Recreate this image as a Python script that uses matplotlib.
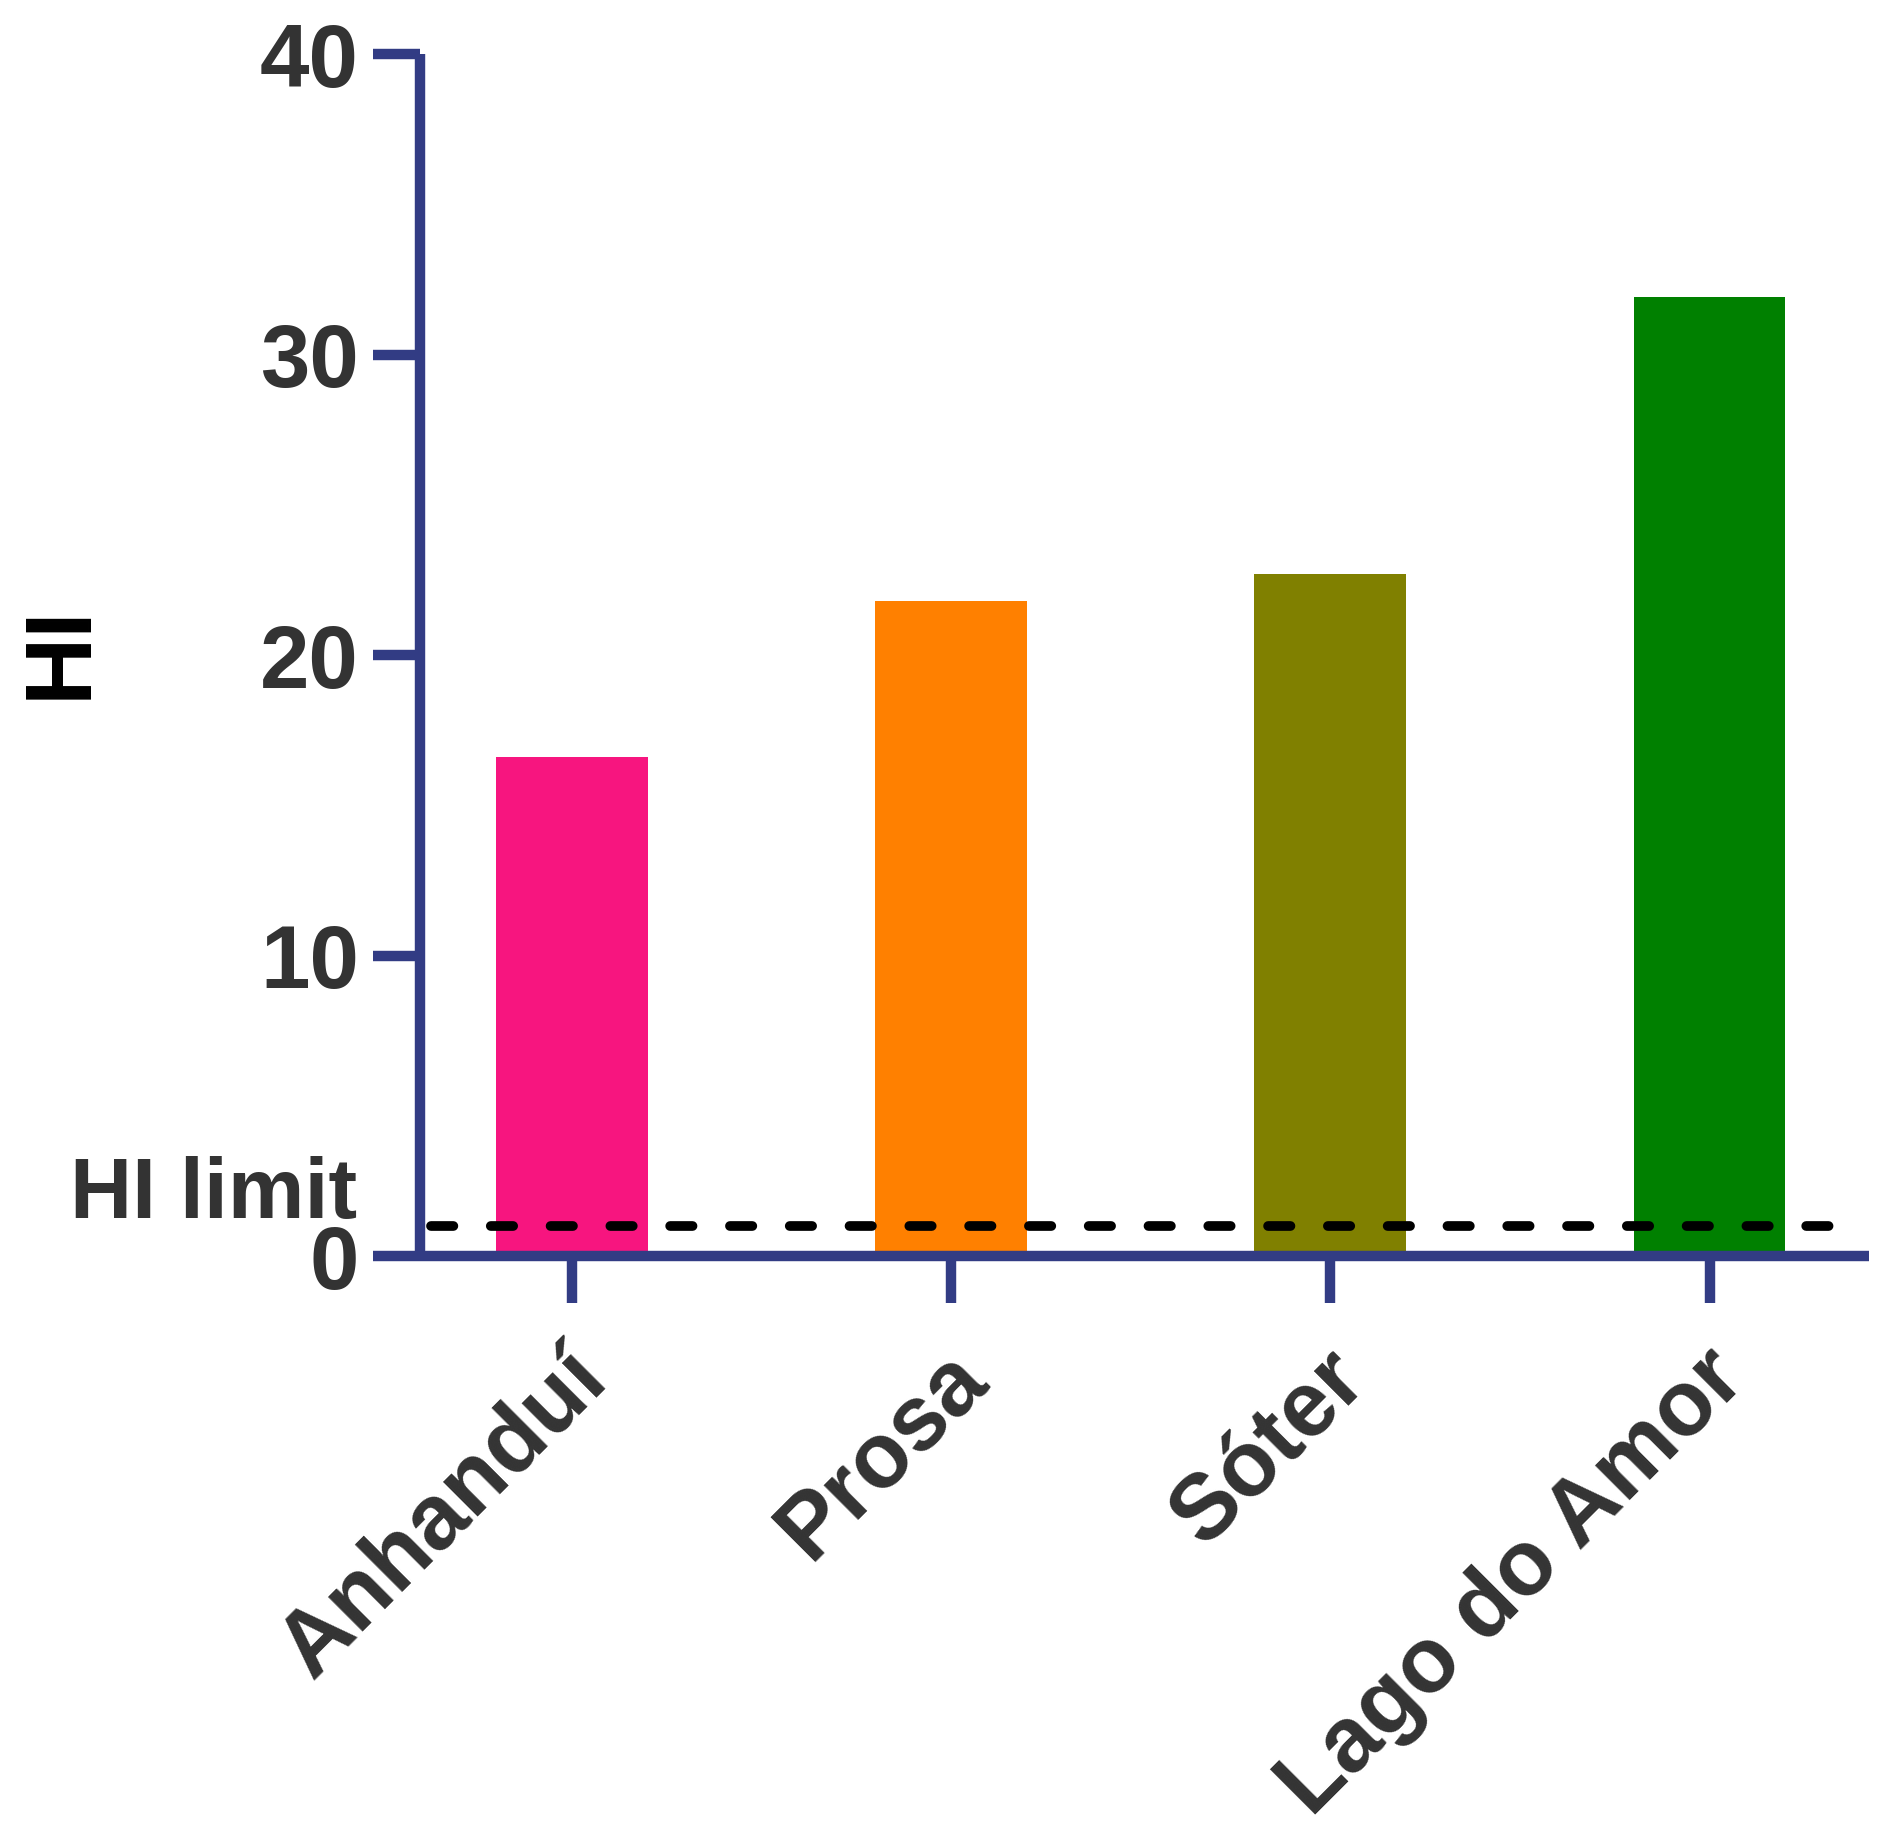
import matplotlib
matplotlib.use("Agg")
import matplotlib.pyplot as plt
from matplotlib.transforms import blended_transform_factory, ScaledTranslation

categories = ["Anhanduí", "Prosa", "Sóter", "Lago do Amor"]
hi_values = [16.6, 21.8, 22.7, 31.9]
bar_colors = ["#F7157F", "#FF8000", "#808000", "#008000"]
hi_limit = 1.0
y_ticks = [0, 10, 20, 30, 40]

plt.rcParams['font.family'] = ['Liberation Sans', 'DejaVu Sans']
plt.rcParams['font.weight'] = 'bold'

axis_color = "#323C84"
text_color = "#333333"

fig = plt.figure(figsize=(18.97, 18.38), dpi=100)
ax = fig.add_axes([0.2214, 0.3166, 0.7638, 0.654])

x = list(range(len(categories)))
ax.bar(x, hi_values, width=0.4, color=bar_colors, zorder=2)
ax.plot([-0.372, 3.32], [hi_limit, hi_limit], color='black', lw=7,
        linestyle=(0, (2.3, 3.85)), dash_capstyle='round', zorder=3, clip_on=False)

ax.set_xlim(-0.40, 3.42)
ax.set_ylim(0, 40)
ax.set_yticks(y_ticks)
ax.set_xticks(x)
ax.set_xticklabels([])
ax.set_yticklabels([str(v) for v in y_ticks], fontsize=64, fontweight='bold', color=text_color)

label_offset = ScaledTranslation(0.22, -1.09, fig.dpi_scale_trans)
for xi, name in zip(x, categories):
    ax.text(xi, 0, name, transform=ax.transData + label_offset, rotation=45,
            ha='right', va='center', rotation_mode='anchor',
            fontsize=66, fontweight='bold', color=text_color)

for s in ['top', 'right']:
    ax.spines[s].set_visible(False)
for s in ['left', 'bottom']:
    ax.spines[s].set_color(axis_color)
    ax.spines[s].set_linewidth(7.5)
    ax.spines[s].set_zorder(4)
    ax.spines[s].set_capstyle('butt')

ax.tick_params(axis='both', direction='out', length=34, width=7.5, color=axis_color)
ax.tick_params(axis='y', pad=10)

# HI limit annotation
trans = blended_transform_factory(fig.transFigure, ax.transData)
ax.text(0.188, 2.0, "HI limit", transform=trans, ha='right', va='center',
        fontsize=62, fontweight='bold', color=text_color)

fig.text(0.032, 1 - 652 / 1838, "HI", rotation=90, ha='center', va='center',
         fontsize=68, fontweight='bold', color='black')

fig.savefig("out.png", dpi=100)
